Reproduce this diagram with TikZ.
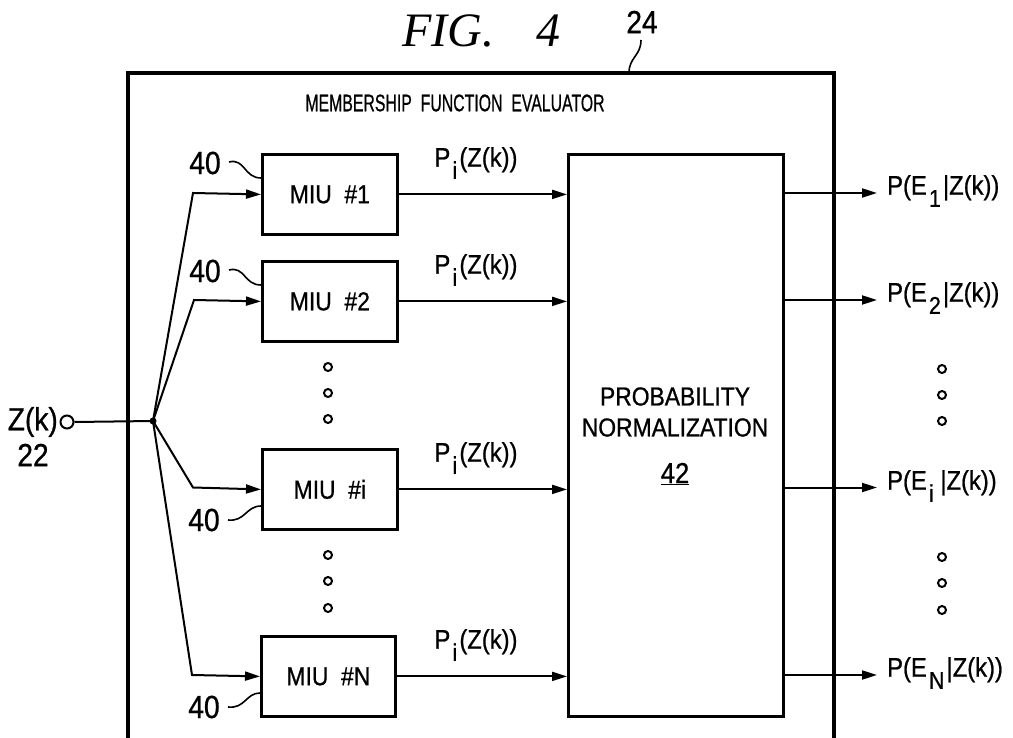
\documentclass[tikz,border=0pt]{standalone}
\usepackage{fontspec}
\setmainfont{Liberation Sans}[FakeStretch=0.88,FakeBold=0.8]
\newfontfamily\figfont{Liberation Serif}
\usetikzlibrary{arrows.meta}
\newcommand\lowsub[1]{\hspace{0.08em}\raisebox{-0.45em}{\scalebox{0.9}{#1}}\hspace{0.08em}}
\begin{document}
\begin{tikzpicture}[x=1pt,y=-1pt,
  miubox/.style={draw,line width=2.8pt,minimum width=135pt,minimum height=80pt,inner sep=0pt,anchor=north west,font=\fontsize{26}{26}\selectfont},
  conn/.style={line width=2pt},
  arr/.style={line width=2pt,-{Triangle[length=15pt,width=9pt]}},
  lab/.style={font=\fontsize{27}{27}\selectfont,inner sep=0pt},
  num/.style={font=\fontsize{32}{32}\selectfont,inner sep=0pt},
  vdot/.style={draw,circle,line width=2pt,minimum size=8pt,inner sep=0pt},
  lead/.style={line width=1.6pt}]
\useasboundingbox (0,0) rectangle (1013,738);
% title
\node[anchor=base west,inner sep=0pt,font=\figfont\itshape\fontsize{48}{48}\selectfont] (fig) at (402,47) {FIG.\hspace{42pt}4};
\node[num] (n24) at (642,22) {24};
\coordinate (l24a) at (641,40);
\coordinate (l24b) at (629,73);
\draw[lead] (l24a) .. controls (641,56) and (629,57) .. (l24b);
% outer box
\draw[line width=3.4pt] (128,738) -- (128,73) -- (834,73) -- (834,738);
\node[font=\fontsize{24}{24}\selectfont,inner sep=0pt] (mfe) at (455,103) {\scalebox{0.75}[1]{MEMBERSHIP\ \ FUNCTION\ \ EVALUATOR}};
% MIU boxes
\node[miubox] (miu1) at (261,153) {MIU\ \ \#1};
\node[miubox] (miu2) at (261,260) {MIU\ \ \#2};
\node[miubox] (miui) at (261,448) {MIU\ \ \#i};
\node[miubox,minimum width=134pt] (miun) at (260,635) {MIU\ \ \#N};
% probability normalization
\node[draw,line width=2.8pt,minimum width=215pt,minimum height=562pt,inner sep=0pt,anchor=north west] (pn) at (567,153) {};
\node[font=\fontsize{26}{31}\selectfont,align=center,inner sep=0pt] (pntext) at (675,412) {PROBABILITY\\NORMALIZATION};
\node[font=\fontsize{29}{29}\selectfont,inner sep=1pt] (n42) at (675,474) {\underline{42}};
% input
\node[draw,circle,line width=2pt,minimum size=13pt,inner sep=0pt] (in) at (67,422) {};
\node[num,anchor=east] (zk) at (58,422) {Z(k)};
\node[num] (n22) at (33,455) {22};
\coordinate (br) at (153,421);
\fill (br) circle (3.5pt);
\draw[conn] (in.east) -- (br);
\draw[arr] (br) -- (193,193) -- (miu1.west);
\draw[arr] (br) -- (194,300) -- (miu2.west);
\draw[arr] (br) -- (193,487.5) -- (miui.west);
\draw[arr] (br) -- (192,675) -- (miun.west);
% MIU -> PN
\foreach \m in {miu1,miu2,miui,miun}{
  \draw[arr] (\m.east) -- (\m.east -| pn.west);
}
\node[lab] (p1) at (476,163) {P\lowsub{i}(Z(k))};
\node[lab] (p2) at (476,270) {P\lowsub{i}(Z(k))};
\node[lab] (p3) at (476,458) {P\lowsub{i}(Z(k))};
\node[lab] (p4) at (476,645) {P\lowsub{i}(Z(k))};
% outputs
\coordinate (o1) at (877,193);
\coordinate (o2) at (877,300);
\coordinate (o3) at (877,487.5);
\coordinate (o4) at (877,675);
\draw[arr] (pn.east |- o1) -- (o1);
\draw[arr] (pn.east |- o2) -- (o2);
\draw[arr] (pn.east |- o3) -- (o3);
\draw[arr] (pn.east |- o4) -- (o4);
\node[lab,anchor=west] (e1) at (887,191) {P(E\lowsub{1}|Z(k))};
\node[lab,anchor=west] (e2) at (887,298) {P(E\lowsub{2}|Z(k))};
\node[lab,anchor=west] (e3) at (887,486) {P(E\lowsub{i}\,|Z(k))};
\node[lab,anchor=west] (e4) at (887,673) {P(E\lowsub{N}|Z(k))};
% dots
\foreach \y [count=\k] in {367,393,419,555,581,608}{ \node[vdot] (ld\k) at (328,\y) {}; }
\foreach \y [count=\k] in {369,395,421,557,583,610}{ \node[vdot] (rd\k) at (942,\y) {}; }
% 40 labels
\node[num] (f1) at (205,163) {40};
\node[num] (f2) at (205,271) {40};
\node[num] (f3) at (204,520) {40};
\node[num] (f4) at (204,707) {40};
\coordinate (t1) at (261,178);
\coordinate (t2) at (261,285);
\coordinate (t3) at (261,506);
\coordinate (t4) at (260,693);
\coordinate (s1) at (229,162);
\coordinate (s2) at (229,270);
\coordinate (s3) at (228,520);
\coordinate (s4) at (228,707);
\draw[lead] (s1) .. controls (245,158) and (244,178) .. (t1);
\draw[lead] (s2) .. controls (245,266) and (244,285) .. (t2);
\draw[lead] (s3) .. controls (245,522) and (246,506) .. (t3);
\draw[lead] (s4) .. controls (245,709) and (246,693) .. (t4);
\end{tikzpicture}
\end{document}
